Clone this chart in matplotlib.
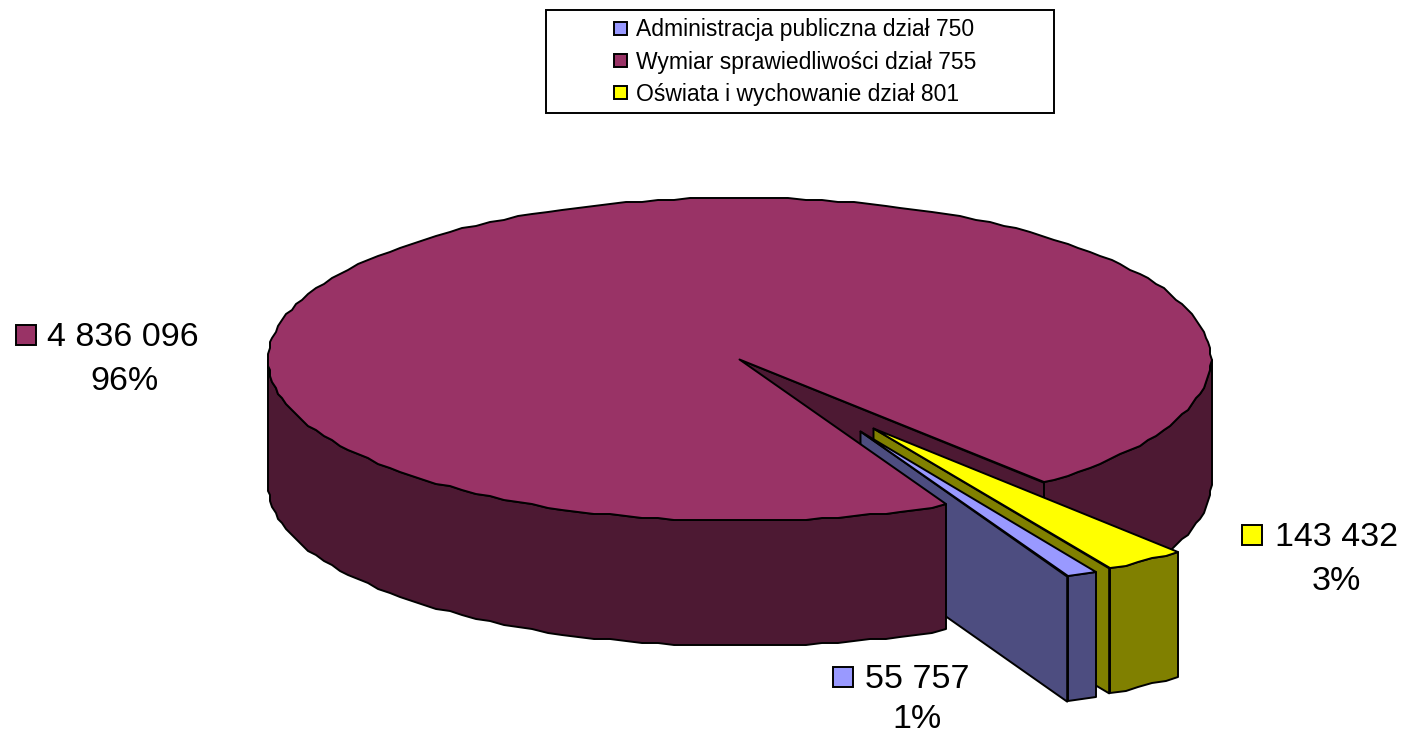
"""3D style exploded pie, drawn in pixel coordinates of the original picture."""
import numpy as np
import matplotlib
matplotlib.use('Agg')
import matplotlib.pyplot as plt
from matplotlib.patches import Polygon, Rectangle

plt.rcParams['font.family'] = ['Liberation Sans', 'DejaVu Sans']

names = ['Administracja publiczna dział 750',
         'Wymiar sprawiedliwości dział 755',
         'Oświata i wychowanie dział 801']
values = [55757, 4836096, 143432]
tops = ['#9999FF', '#993366', '#FFFF00']
walls = ['#4D4D80', '#4D1933', '#808000']

CENTER = (739.5, 359.5)
RX, RY = 471.5, 161.5
DEPTH = 125
START = 64.0              # degrees clockwise from east, first edge of the big slice
EXPLODE = [(121, 72), (0, 0), (134, 69)]
LW = 1.4
DROP = np.array([0, DEPTH])


def jag(pts, grid=2.0):
    # the original outline is a coarse polyline, rounding gives the same wobble
    return np.round(np.asarray(pts) / grid) * grid


def rim(off, t0, t1):
    t = np.radians(np.arange(t0, t1, 2.0).tolist() + [t1])
    return np.column_stack([CENTER[0] + off[0] + RX * np.cos(t),
                            CENTER[1] + off[1] + RY * np.sin(t)])


def apex(off):
    return np.array([CENTER[0] + off[0], CENTER[1] + off[1]])


def poly(ax, pts, color):
    ax.add_patch(Polygon(pts, closed=True, facecolor=color, edgecolor='black',
                         linewidth=LW, joinstyle='round'))


def draw_face(ax, t, off, color):
    # radial cut of a slice, from the centre out to angle t
    edge = rim(off, t, t)[-1]
    poly(ax, [apex(off), edge, edge + DROP, apex(off) + DROP], color)


def draw_wall(ax, t0, t1, off, color):
    part = jag(rim(off, t0, t1))
    poly(ax, np.vstack([part, part[::-1] + DROP]), color)


def draw_top(ax, t0, t1, off, color):
    poly(ax, np.vstack([apex(off), jag(rim(off, t0, t1))]), color)


def swatch(ax, x, y, size, color):
    ax.add_patch(Rectangle((x, y), size, size, facecolor=color,
                           edgecolor='black', linewidth=LW))


def fmt(v):
    return f'{v:,}'.replace(',', ' ')


def main():
    fig = plt.figure(figsize=(14.02, 7.34), dpi=100)
    ax = fig.add_axes([0, 0, 1, 1])
    ax.set_xlim(0, 1402)
    ax.set_ylim(734, 0)
    ax.axis('off')

    sweep = np.array(values) / sum(values) * 360
    main_end = START + sweep[1]
    yellow_end = main_end + sweep[2]
    blue_end = yellow_end + sweep[0]

    # back parts of the big slice first, the small ones lie over them
    draw_face(ax, main_end, EXPLODE[1], walls[1])
    draw_wall(ax, 360, main_end, EXPLODE[1], walls[1])

    draw_face(ax, yellow_end, EXPLODE[2], walls[2])
    draw_wall(ax, main_end, yellow_end, EXPLODE[2], walls[2])
    draw_top(ax, main_end, yellow_end, EXPLODE[2], tops[2])

    draw_face(ax, blue_end, EXPLODE[0], walls[0])
    draw_wall(ax, yellow_end, blue_end, EXPLODE[0], walls[0])
    draw_top(ax, yellow_end, blue_end, EXPLODE[0], tops[0])

    # front of the big slice covers the inner end of the blue one
    draw_wall(ax, START, 180, EXPLODE[1], walls[1])
    draw_top(ax, START, main_end, EXPLODE[1], tops[1])

    # legend box
    ax.add_patch(Rectangle((546, 10), 508, 103, facecolor='white',
                           edgecolor='black', linewidth=LW))
    for name, color, y in zip(names, tops, [28, 60.5, 92.5]):
        swatch(ax, 614, y - 6.5, 13, color)
        ax.text(636, y + 1.5, name, fontsize=16.5, va='center', ha='left')

    # data labels: swatch x, text x, value y, percent x, percent y
    spots = [(833, 865, 677, 917, 717),
             (16, 47, 335, 124, 379),
             (1242, 1275, 535, 1336, 579)]
    for v, color, (sx, tx, y, px, py) in zip(values, tops, spots):
        swatch(ax, sx, y - 10, 20, color)
        ax.text(tx, y + 2.5, fmt(v), fontsize=24.5, va='center', ha='left')
        ax.text(px, py + 2.5, f'{v / sum(values) * 100:.0f}%', fontsize=24.5,
                va='center', ha='center')

    fig.savefig('out.png', dpi=100)


if __name__ == '__main__':
    main()
